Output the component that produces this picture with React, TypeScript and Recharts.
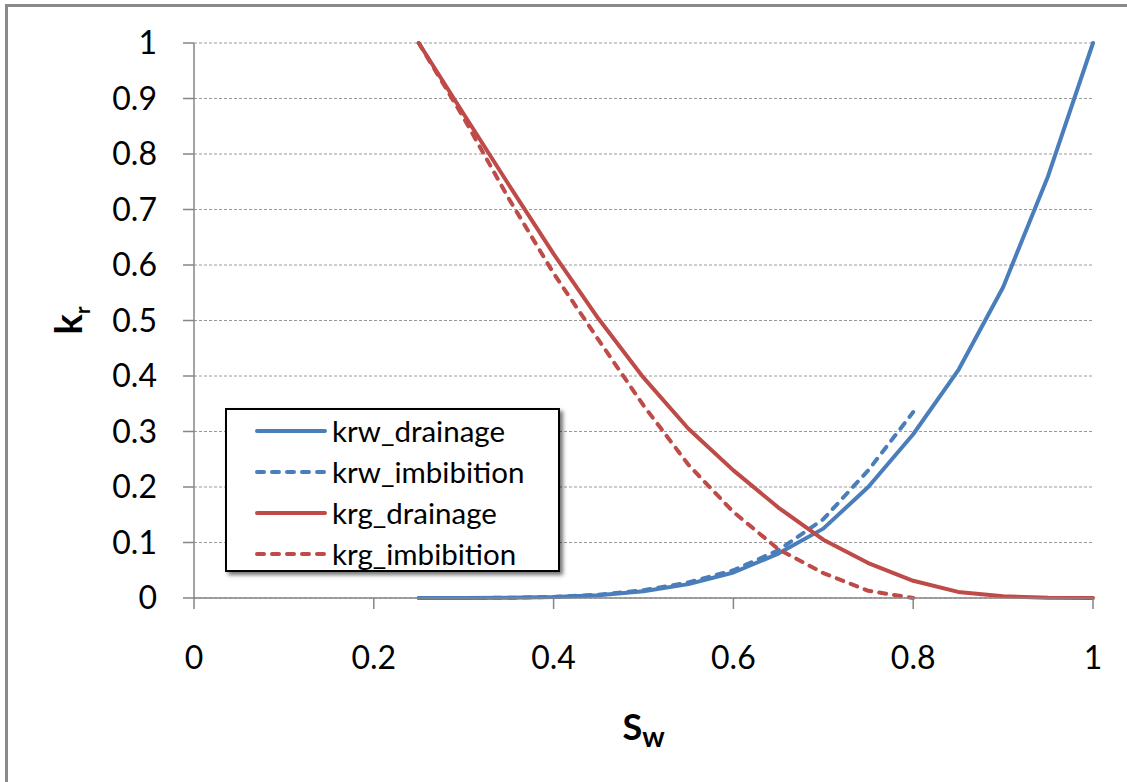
import React from "react";
import { LineChart, Line, XAxis, YAxis, CartesianGrid, Legend } from "recharts";

// Water saturation (x) sample points
const sw = [0.25, 0.3, 0.35, 0.4, 0.45, 0.5, 0.55, 0.6, 0.65, 0.7, 0.75, 0.8, 0.85, 0.9, 0.95, 1.0];

// Relative permeabilities
const krwDrainage = [0, 0, 0.0003, 0.0016, 0.005, 0.012, 0.025, 0.046, 0.08, 0.125, 0.2, 0.295, 0.41, 0.56, 0.76, 1.0];
const krwImbibition = [0, 0, 0.0004, 0.002, 0.006, 0.014, 0.028, 0.05, 0.086, 0.142, 0.23, 0.335];
const krgDrainage = [1, 0.872, 0.745, 0.62, 0.503, 0.397, 0.305, 0.23, 0.163, 0.105, 0.063, 0.031, 0.011, 0.003, 0.0005, 0];
const krgImbibition = [1, 0.865, 0.72, 0.585, 0.465, 0.347, 0.24, 0.155, 0.088, 0.045, 0.013, 0];

const xTicks = [0, 0.2, 0.4, 0.6, 0.8, 1];
const yTicks = [0, 0.1, 0.2, 0.3, 0.4, 0.5, 0.6, 0.7, 0.8, 0.9, 1];

const seriesNames = ["krw_drainage", "krw_imbibition", "krg_drainage", "krg_imbibition"];
const seriesValues = [krwDrainage, krwImbibition, krgDrainage, krgImbibition];

const BLUE = "#4a7ebb";
const RED = "#be4b48";
const seriesStyle = [
  { color: BLUE, dash: undefined as string | undefined },
  { color: BLUE, dash: "7 8" },
  { color: RED, dash: undefined as string | undefined },
  { color: RED, dash: "7 8" },
];

const data = sw.map((x, i) => {
  const row: Record<string, number | null> = { sw: x };
  seriesNames.forEach((n, s) => {
    const v = seriesValues[s][i];
    row[n] = v === undefined ? null : v;
  });
  return row;
});

const FONT = "Lato, 'Open Sans', sans-serif";

const renderLegend = () => (
  <div
    style={{
      boxSizing: "border-box",
      width: 335,
      height: 164,
      border: "2px solid #000",
      background: "#fff",
      boxShadow: "3px 3px 4px rgba(0,0,0,0.55)",
      fontFamily: FONT,
      fontSize: 29.5,
      color: "#000",
      paddingTop: 0,
    }}
  >
    {seriesNames.map((n, i) => (
      <div key={n} style={{ height: 41, display: "flex", alignItems: "center" }}>
        <svg width={100} height={20} style={{ display: "block" }}>
          <line
            x1={30}
            x2={98}
            y1={10}
            y2={10}
            stroke={seriesStyle[i].color}
            strokeWidth={4}
            strokeLinecap="round"
            strokeDasharray={seriesStyle[i].dash}
          />
        </svg>
        <span style={{ marginLeft: 5, lineHeight: "41px" }}>{n}</span>
      </div>
    ))}
  </div>
);

const YLabel = (props: any) => {
  const vb = props.viewBox || { x: 0, y: 43, width: 194, height: 555 };
  const cx = 82;
  const cy = vb.y + vb.height / 2;
  return (
    <text
      x={cx}
      y={cy}
      transform={`rotate(-90 ${cx} ${cy})`}
      textAnchor="middle"
      fontFamily={FONT}
      fontWeight="bold"
      fill="#000"
    >
      <tspan fontSize={38}>k</tspan>
      <tspan fontSize={20} dy={8}>r</tspan>
    </text>
  );
};

const XLabel = (props: any) => {
  const vb = props.viewBox || { x: 194, y: 598, width: 899, height: 60 };
  const cx = vb.x + vb.width / 2;
  return (
    <text x={cx} y={740} textAnchor="middle" fontFamily={FONT} fontWeight="bold" fill="#000">
      <tspan fontSize={36}>S</tspan>
      <tspan fontSize={28} dy={7}>w</tspan>
    </text>
  );
};

export default function App() {
  return (
    <div style={{ position: "absolute", left: 0, top: 0, width: 1127, height: 782, background: "#fff" }}>
      <div
        style={{
          position: "absolute",
          left: 5,
          top: 4,
          width: 1122,
          height: 778,
          borderLeft: "3px solid #8a8a8a",
          borderTop: "3px solid #8a8a8a",
          boxSizing: "border-box",
        }}
      />
      <div style={{ position: "absolute", left: 0, top: 0 }}>
        <LineChart width={1127} height={782} data={data} margin={{ top: 43, right: 34, bottom: 124, left: 0 }}>
          <CartesianGrid horizontal vertical={false} stroke="#9a9a9a" strokeDasharray="3 2" />
          <XAxis
            dataKey="sw"
            type="number"
            domain={[0, 1]}
            ticks={xTicks}
            height={60}
            tickSize={11}
            tickMargin={37}
            stroke="#868686"
            tick={{ fontSize: 32, fill: "#000", fontFamily: FONT }}
            axisLine={{ stroke: "#868686", strokeWidth: 1.5 }}
            tickLine={{ stroke: "#868686", strokeWidth: 1.5 }}
            label={<XLabel />}
          />
          <YAxis
            type="number"
            domain={[0, 1]}
            ticks={yTicks}
            width={194}
            tickSize={11}
            tickMargin={26}
            stroke="#868686"
            tick={{ fontSize: 32, fill: "#000", fontFamily: FONT }}
            axisLine={{ stroke: "#868686", strokeWidth: 1.5 }}
            tickLine={{ stroke: "#868686", strokeWidth: 1.5 }}
            label={<YLabel />}
          />
          <Legend
            layout="vertical"
            align="center"
            verticalAlign="middle"
            content={renderLegend}
            wrapperStyle={{ left: 225, top: 408, width: 335, height: 164 }}
          />
          {seriesNames.map((n, i) => (
            <Line
              key={n}
              type="linear"
              dataKey={n}
              name={n}
              stroke={seriesStyle[i].color}
              strokeWidth={4}
              strokeDasharray={seriesStyle[i].dash}
              strokeLinecap="round"
              strokeLinejoin="round"
              dot={false}
              activeDot={false}
              isAnimationActive={false}
            />
          ))}
        </LineChart>
      </div>
    </div>
  );
}
